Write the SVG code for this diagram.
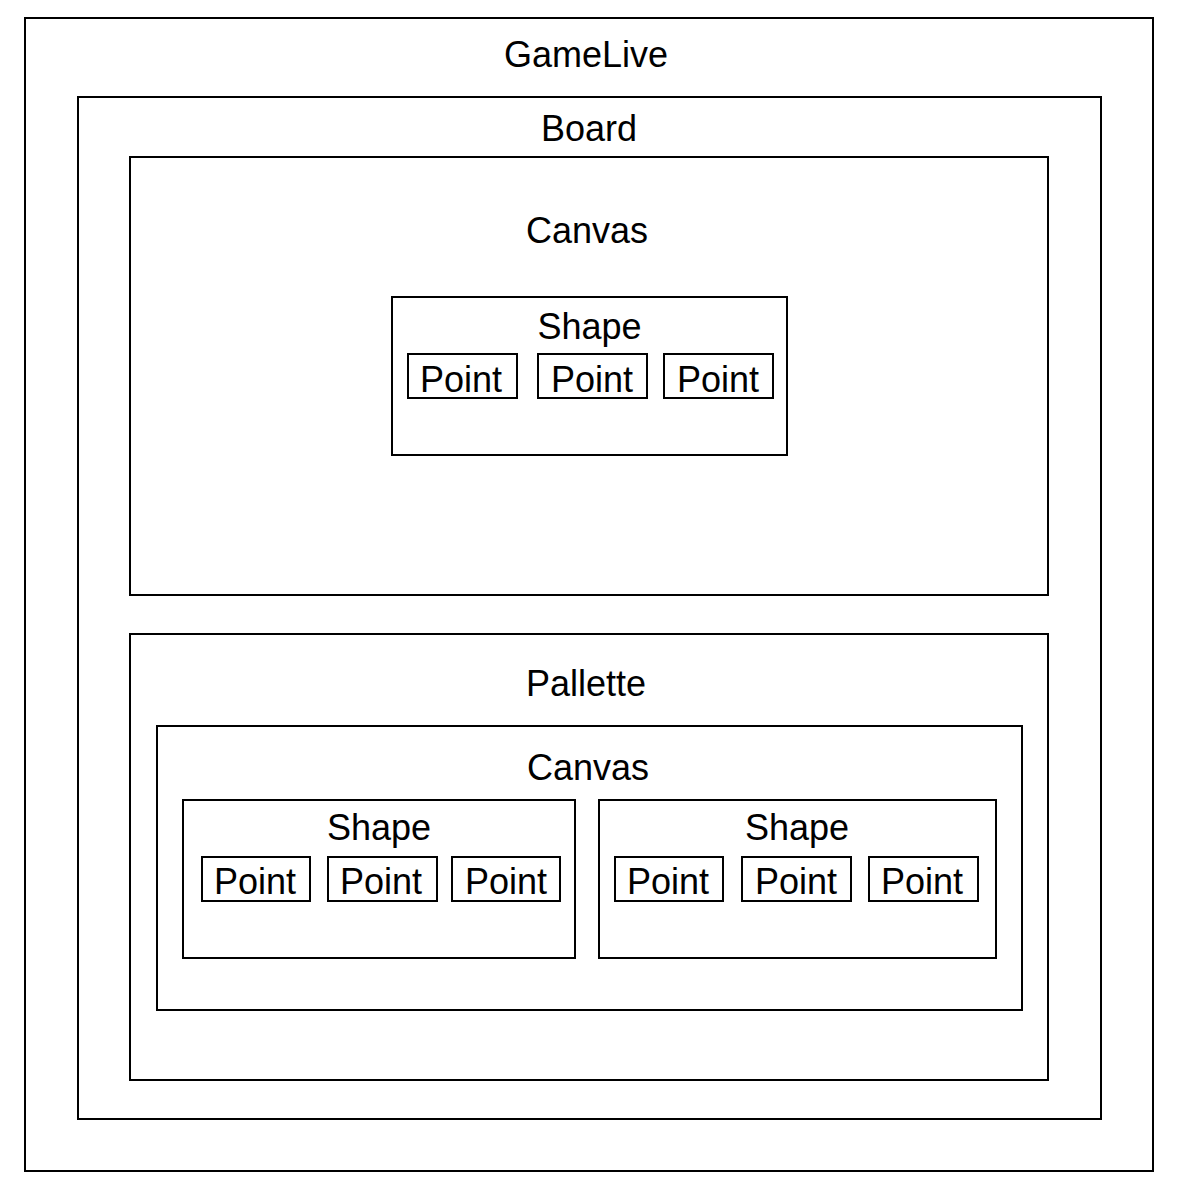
<svg xmlns="http://www.w3.org/2000/svg" width="1180" height="1196" viewBox="0 0 1180 1196">
<style>
rect{fill:none;stroke:#000;stroke-width:2}
text{font-family:"Liberation Sans",Arial,sans-serif;font-size:36px;fill:#000;text-anchor:middle}
</style>
<rect x="0" y="0" width="1180" height="1196" style="fill:#fff;stroke:none"/>
<g id="gamelive"><rect x="25" y="18" width="1128" height="1153"/><text x="586" y="67">GameLive</text></g>
<g id="board"><rect x="78" y="97" width="1023" height="1022"/><text x="589" y="141">Board</text></g>
<g id="canvas1"><rect x="130" y="157" width="918" height="438"/><text x="587" y="243">Canvas</text></g>
<g id="shape1"><rect x="392" y="297" width="395" height="158"/><text x="589.5" y="339">Shape</text></g>
<g id="point1a"><rect x="408" y="354" width="109" height="44"/><text x="461" y="392">Point</text></g>
<g id="point1b"><rect x="538" y="354" width="109" height="44"/><text x="592" y="392">Point</text></g>
<g id="point1c"><rect x="664" y="354" width="109" height="44"/><text x="718" y="392">Point</text></g>
<g id="pallette"><rect x="130" y="634" width="918" height="446"/><text x="586" y="696">Pallette</text></g>
<g id="canvas2"><rect x="157" y="726" width="865" height="284"/><text x="588" y="780">Canvas</text></g>
<g id="shape2"><rect x="183" y="800" width="392" height="158"/><text x="379" y="840">Shape</text></g>
<g id="point2a"><rect x="202" y="857" width="108" height="44"/><text x="255" y="894">Point</text></g>
<g id="point2b"><rect x="328" y="857" width="109" height="44"/><text x="381" y="894">Point</text></g>
<g id="point2c"><rect x="452" y="857" width="108" height="44"/><text x="506" y="894">Point</text></g>
<g id="shape3"><rect x="599" y="800" width="397" height="158"/><text x="797" y="840">Shape</text></g>
<g id="point3a"><rect x="615" y="857" width="108" height="44"/><text x="668" y="894">Point</text></g>
<g id="point3b"><rect x="742" y="857" width="109" height="44"/><text x="796" y="894">Point</text></g>
<g id="point3c"><rect x="869" y="857" width="109" height="44"/><text x="922" y="894">Point</text></g>
<g id="connectors"></g>
</svg>
